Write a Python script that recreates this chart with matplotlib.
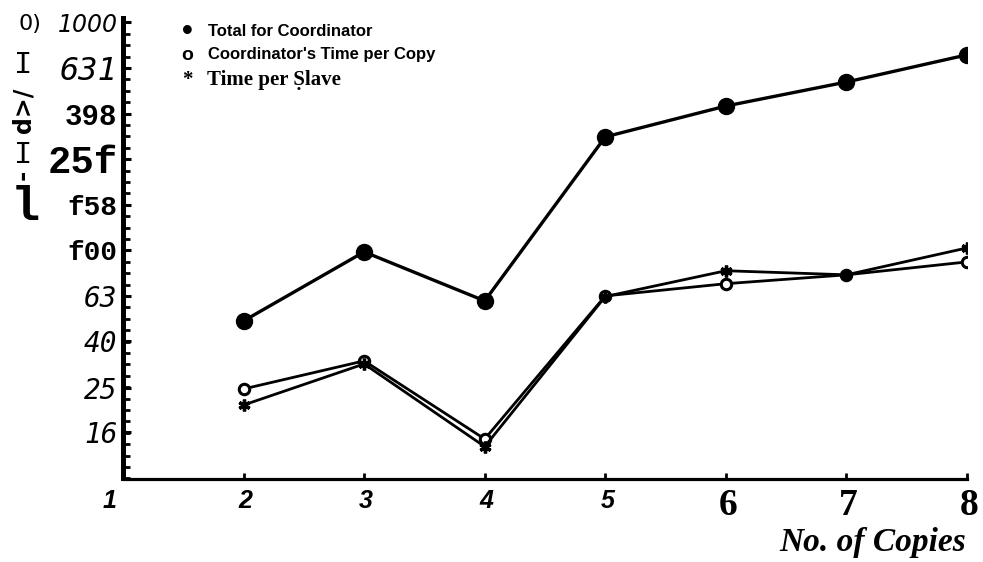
import numpy as np
import matplotlib
matplotlib.use("Agg")
import matplotlib.pyplot as plt
from matplotlib.transforms import ScaledTranslation

# ---- data -------------------------------------------------------------
copies = [2, 3, 4, 5, 6, 7, 8]
total_coordinator = [49.1, 98.6, 60.1, 315, 430, 548, 721]
coord_time_per_copy = [24.7, 32.8, 14.9, 63.2, 71.5, 78.2, 89.1]
time_per_slave = [21.0, 31.8, 13.8, 62.8, 81.5, 78.2, 102.6]

x_ticks = [1, 2, 3, 4, 5, 6, 7, 8]
x_tick_labels = ["1", "2", "3", "4", "5", "6", "7", "8"]
y_ticks = [1000, 631, 398, 251, 158, 100, 63, 40, 25, 16]
y_tick_labels = ["1000", "631", "398", "25f", "f58", "f00", "63", "40", "25", "16"]

legend_labels = ["Total for Coordinator", "Coordinator's Time per Copy", "Time per Ṣlave"]
x_title = "No. of Copies"

# ---- figure -----------------------------------------------------------
W, H = 983, 562
fig = plt.figure(figsize=(W / 100, H / 100), dpi=100)
fig.patch.set_facecolor("white")


def fx(px):
    return px / W


def fy(py):
    return 1 - py / H


ax = fig.add_axes([fx(123), fy(478.5), fx(967) - fx(123), fy(18) - fy(478.5)])
ax.set_yscale("log")
ax.set_xlim(1, 8)
ax.set_ylim(10, 1046)

for s in ("top", "right"):
    ax.spines[s].set_visible(False)
ax.spines["left"].set_linewidth(3.6)
ax.spines["bottom"].set_linewidth(2.3)

# series
ax.plot(copies, total_coordinator, color="black", lw=2.4, marker="o",
        ms=11.5, mfc="black", mec="black", zorder=3)
ax.plot(copies, coord_time_per_copy, color="black", lw=2.0, marker="o",
        ms=7.5, mfc="white", mec="black", mew=2.2, zorder=4)
ax.plot(copies, time_per_slave, color="black", lw=2.0, marker=(6, 2, 0),
        ms=8.5, mec="black", mew=2.4, zorder=4)

# y axis: dense inward ticks, labelled every 0.2 decade
minor = 10 ** np.arange(1.0, 3.0001, 0.05)
ax.yaxis.set_minor_locator(matplotlib.ticker.FixedLocator(minor))
ax.yaxis.set_minor_formatter(matplotlib.ticker.NullFormatter())
ax.tick_params(axis="y", which="minor", direction="in", length=5, width=2)
ax.set_yticks(y_ticks, y_tick_labels)
ax.tick_params(axis="y", which="major", direction="in", length=6, width=2.2, pad=4)

y_styles = [
    dict(family="DejaVu Sans", style="italic", size=17),
    dict(family="DejaVu Sans Mono", style="italic", size=23),
    dict(family="Liberation Mono", weight="bold", size=21),
    dict(family="Liberation Mono", weight="bold", size=28),
    dict(family="Liberation Mono", weight="bold", size=20),
    dict(family="Liberation Mono", weight="bold", size=20),
    dict(family="DejaVu Sans Mono", style="italic", size=20),
    dict(family="DejaVu Sans Mono", style="italic", size=20),
    dict(family="DejaVu Sans Mono", style="italic", size=20),
    dict(family="DejaVu Sans Mono", style="italic", size=20),
]
for lbl, st in zip(ax.get_yticklabels(), y_styles):
    lbl.set_fontfamily(st["family"])
    lbl.set_fontsize(st["size"])
    lbl.set_fontstyle(st.get("style", "normal"))
    lbl.set_fontweight(st.get("weight", "normal"))

# x axis: small inward ticks, labels drawn below in mixed type
ax.set_xticks(x_ticks, [""] * len(x_ticks))
ax.tick_params(axis="x", direction="in", length=4, width=2)
sans_bi = dict(family="Liberation Sans", style="italic", weight="bold", size=18)
serif_b = dict(family="Liberation Serif", weight="bold", size=27)
for xv, txt in zip(x_ticks, x_tick_labels):
    st = sans_bi if xv <= 5 else serif_b
    dy = -23 if xv <= 5 else -27
    dx = -13 if xv == 1 else 2
    off = ScaledTranslation(dx / 100, dy / 100, fig.dpi_scale_trans)
    ax.text(xv, 0, txt, transform=ax.get_xaxis_transform() + off,
            ha="center", va="center", color="black", **st)

fig.text(fx(966), fy(551.5), x_title, ha="right", va="baseline",
         family="Liberation Serif", style="italic", weight="bold", size=24)

# legend entries
fig.text(fx(187), fy(32), "•", ha="center", va="center", size=22,
         family="Liberation Sans", weight="bold")
fig.text(fx(208), fy(31), legend_labels[0], ha="left", va="center",
         family="Liberation Sans", weight="bold", size=12)
fig.text(fx(187), fy(56), "o", ha="center", va="center", size=14,
         family="Liberation Sans", weight="bold")
fig.text(fx(208), fy(55), legend_labels[1], ha="left", va="center",
         family="Liberation Sans", weight="bold", size=12)
fig.text(fx(187), fy(80), "*", ha="center", va="center", size=15,
         family="Liberation Serif", weight="bold")
fig.text(fx(207), fy(80), legend_labels[2], ha="left", va="center",
         family=["Liberation Serif", "DejaVu Serif"], weight="bold", size=15)

# vertical axis caption pieces
fig.text(fx(30), fy(24), "0)", ha="center", va="center",
         family="DejaVu Sans", size=16)
fig.text(fx(23), fy(65), "I", ha="center", va="center",
         family="Liberation Mono", size=22)
fig.text(fx(23), fy(110), "d>/", ha="center", va="center", rotation=90,
         family="DejaVu Sans", weight="bold", size=17)
fig.text(fx(23), fy(155), "I", ha="center", va="center",
         family="Liberation Mono", size=22)
fig.text(fx(23), fy(175), "-", ha="center", va="center", rotation=90,
         family="DejaVu Sans", weight="bold", size=18)
fig.text(fx(25), fy(207), "l", ha="center", va="center",
         family="Liberation Mono", weight="bold", size=35)

fig.savefig("out.png", dpi=100, facecolor="white")
